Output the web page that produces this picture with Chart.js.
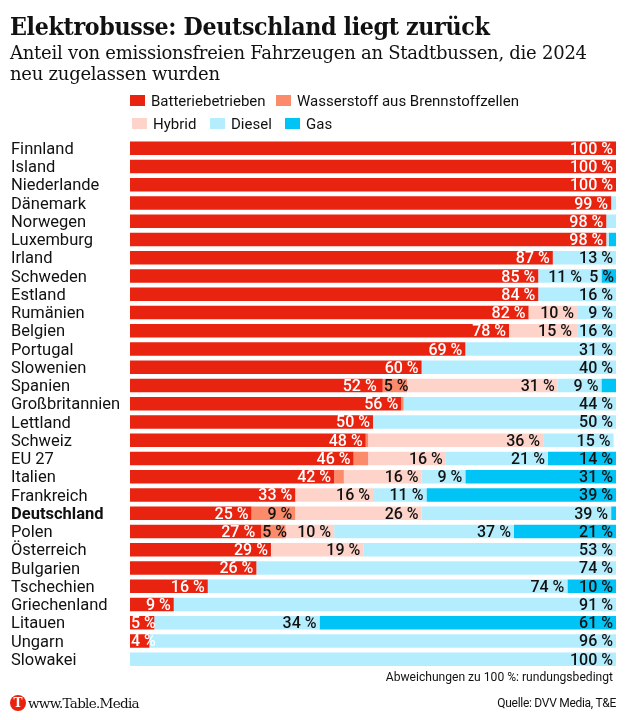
<!DOCTYPE html>
<html lang="de">
<head>
<meta charset="utf-8">
<title>Elektrobusse</title>
<script src="https://cdn.jsdelivr.net/npm/chart.js@4"></script>
<style>
  html, body { margin: 0; padding: 0; background: #fff; }
  body { position: relative; width: 625px; height: 720px; overflow: hidden; font-family: Roboto, sans-serif; color: #111; }
  #chart { position: absolute; left: 0; top: 0; width: 625px; height: 720px; }
  .abs { position: absolute; white-space: nowrap; }
  #headline { left: 10px; top: 12px; font: bold 25px "DejaVu Serif", serif; letter-spacing: -0.4px; transform: scaleX(0.889); transform-origin: left top; }
  .sub { left: 10px; font: 18px "DejaVu Serif", serif; letter-spacing: -0.25px; }
  .legend-item { font-size: 15px; line-height: 18px; }
  .legend-item i { position: absolute; left: -21px; top: 3px; width: 15px; height: 11px; }
  #logo { left: 10px; top: 695px; width: 16px; height: 16px; border-radius: 50%; background: #e8220f; color: #fff; font: bold 12px/16px "DejaVu Serif", serif; text-align: center; }
  #www { left: 28px; top: 695px; font: 13.5px "DejaVu Serif", serif; letter-spacing: -0.7px; }
</style>
</head>
<body>
<canvas id="chart" width="625" height="720"></canvas>
<div class="abs" id="headline">Elektrobusse: Deutschland liegt zurück</div>
<div class="abs sub" style="top:42px">Anteil von emissionsfreien Fahrzeugen an Stadtbussen, die 2024</div>
<div class="abs sub" style="top:63px">neu zugelassen wurden</div>
<div id="legend"></div>
<div class="abs" style="right:12px;top:670px;font-size:12.1px">Abweichungen zu 100 %: rundungsbedingt</div>
<div class="abs" style="right:9px;top:696px;font-size:12px;letter-spacing:-0.28px">Quelle: DVV Media, T&amp;E</div>
<div class="abs" id="logo">T</div>
<div class="abs" id="www">www.Table.Media</div>
<script>
// Daten
const laender = ['Finnland', 'Island', 'Niederlande', 'Dänemark', 'Norwegen', 'Luxemburg', 'Irland', 'Schweden', 'Estland', 'Rumänien', 'Belgien', 'Portugal', 'Slowenien', 'Spanien', 'Großbritannien', 'Lettland', 'Schweiz', 'EU 27', 'Italien', 'Frankreich', 'Deutschland', 'Polen', 'Österreich', 'Bulgarien', 'Tschechien', 'Griechenland', 'Litauen', 'Ungarn', 'Slowakei'];

// Segmentbreiten
const batterie    = [100, 100, 100, 99, 98, 98, 87, 84, 84, 82, 78, 69, 60, 52, 55.8, 50, 48.5, 46, 42, 34, 25, 27, 29, 26, 16, 9, 5, 4, 0];
const wasserstoff = [0, 0, 0, 0, 0, 0, 0, 0, 0, 0, 0, 0, 0, 5, 0.5, 0, 0.5, 3, 2, 0, 9, 5, 0, 0, 0, 0, 0, 0, 0];
const hybrid      = [0, 0, 0, 0, 0, 0, 0, 0, 0, 10, 14, 0, 0, 31, 0, 0, 36, 16, 16, 16, 26, 10, 19, 0, 0, 0, 0, 0, 0];
const dieselWerte = [0, 0, 0, 1, 2, 0.5, 13, 13, 16, 8, 8, 31, 40, 9, 43.7, 50, 14.5, 21, 9, 11, 39, 37, 52, 74, 74, 91, 34, 96, 100];
const gasWerte    = [0, 0, 0, 0, 0, 1.5, 0, 3, 0, 0, 0, 0, 0, 3, 0, 0, 0, 14, 31, 39, 1, 21, 0, 0, 10, 0, 61, 0, 0];

// Beschriftungen (wie im Original, nicht immer gleich der Breite)
const batterieLabels    = [100, 100, 100, 99, 98, 98, 87, 85, 84, 82, 78, 69, 60, 52, 56, 50, 48, 46, 42, 33, 25, 27, 29, 26, 16, 9, 5, 4, null];
const wasserstoffLabels = [null, null, null, null, null, null, null, null, null, null, null, null, null, 5, null, null, null, null, null, null, 9, 5, null, null, null, null, null, null, null];
const hybridLabels      = [null, null, null, null, null, null, null, null, null, 10, 15, null, null, 31, null, null, 36, 16, 16, 16, 26, 10, 19, null, null, null, null, null, null];
const dieselLabels      = [null, null, null, null, null, null, 13, 11, 16, 9, 16, 31, 40, 9, 44, 50, 15, 21, 9, 11, 39, 37, 53, 74, 74, 91, 34, 96, 100];
const gasLabels         = [null, null, null, null, null, null, null, 5, null, null, null, null, null, null, null, null, null, 14, 31, 39, null, 21, null, null, 10, null, 61, null, null];

const reihen = [
    { label: 'Batteriebetrieben', data: batterie, backgroundColor: '#e8230f', werte: batterieLabels, textfarbe: '#fff' },
    { label: 'Wasserstoff aus Brennstoffzellen', data: wasserstoff, backgroundColor: '#fc8b6c', werte: wasserstoffLabels, textfarbe: '#111' },
    { label: 'Hybrid', data: hybrid, backgroundColor: '#fed4ca', werte: hybridLabels, textfarbe: '#111' },
    { label: 'Diesel', data: dieselWerte, backgroundColor: '#b4eefe', werte: dieselLabels, textfarbe: '#111' },
    { label: 'Gas', data: gasWerte, backgroundColor: '#00c4f6', werte: gasLabels, textfarbe: '#111' }
];

// Legende
const legendePositionen = [[151, 92], [297, 92], [153, 115], [231, 115], [306, 115]];
const legende = document.getElementById('legend');
reihen.forEach((r, i) => {
    const el = document.createElement('div');
    el.className = 'abs legend-item';
    el.style.left = legendePositionen[i][0] + 'px';
    el.style.top = legendePositionen[i][1] + 'px';
    el.innerHTML = `<i style="background:${r.backgroundColor}"></i>${r.label}`;
    legende.appendChild(el);
});

// Prozentwerte in die Segmente schreiben, von rechts nach links,
// damit ein zu breiter Text den linken Nachbarn verschiebt
const wertePlugin = {
    id: 'werte',
    afterDatasetsDraw(chart) {
        const ctx = chart.ctx;
        const anzahl = chart.data.datasets.length;
        ctx.save();
        ctx.font = '500 16px Roboto';
        ctx.textAlign = 'right';
        ctx.textBaseline = 'middle';
        chart.data.labels.forEach((land, i) => {
            let grenze = chart.chartArea.right - 2;
            for (let d = anzahl - 1; d >= 0; d--) {
                const ds = chart.data.datasets[d];
                const wert = ds.werte[i];
                if (wert === null) continue;
                const bar = chart.getDatasetMeta(d).data[i];
                const text = wert + ' %';
                const breite = ctx.measureText(text).width;
                // schmale Segmente: Text beginnt am Segmentanfang
                const x = Math.min(Math.max(bar.x - 3, bar.base + 1 + breite), grenze);
                ctx.fillStyle = ds.textfarbe;
                ctx.fillText(text, x, bar.y + 1.5);
                grenze = x - breite - 7;
            }
        });
        ctx.restore();
    }
};

new Chart(document.getElementById('chart'), {
    type: 'bar',
    data: { labels: laender, datasets: reihen },
    plugins: [wertePlugin],
    options: {
        indexAxis: 'y',
        responsive: false,
        animation: false,
        devicePixelRatio: 1,
        layout: { padding: { left: 11, top: 139.2, right: 9, bottom: 51.7 } },
        datasets: { bar: { categoryPercentage: 0.74, barPercentage: 1 } },
        plugins: { legend: { display: false }, tooltip: { enabled: false } },
        scales: {
            x: { stacked: true, display: false, min: 0, max: 100 },
            y: {
                stacked: true,
                grid: { display: false },
                border: { display: false },
                afterFit: (scale) => { scale.width = 119; },
                ticks: {
                    autoSkip: false,
                    crossAlign: 'far',
                    padding: 0,
                    labelOffset: 1.5,
                    color: '#111',
                    font: (c) => ({ family: 'Roboto', size: 16.5, weight: laender[c.index] === 'Deutschland' ? 'bold' : 'normal' })
                }
            }
        }
    }
});
</script>
</body>
</html>
